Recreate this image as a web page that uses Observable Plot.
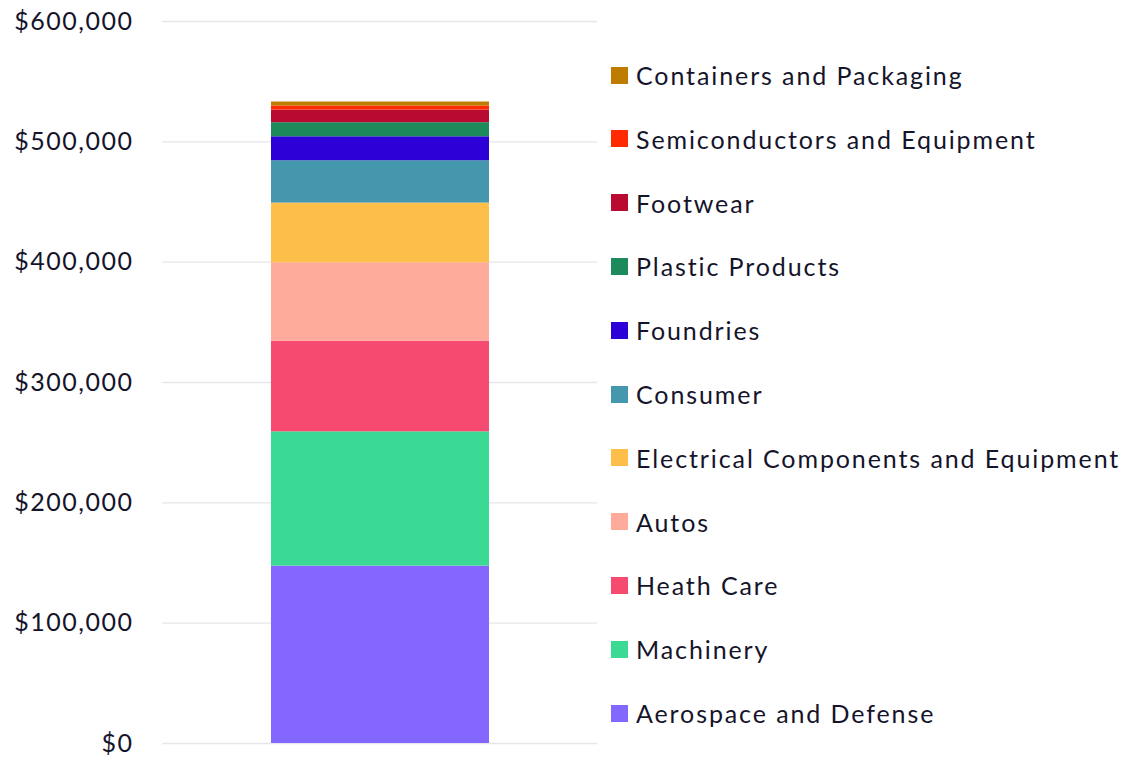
<!DOCTYPE html>
<html>
<head>
<meta charset="utf-8">
<script src="https://cdn.jsdelivr.net/npm/d3@7"></script>
<script src="https://cdn.jsdelivr.net/npm/@observablehq/plot@0.6"></script>
<style>
  html, body { margin: 0; padding: 0; background: #fff; }
  #wrap { position: relative; width: 1127px; height: 758px; font-family: Lato, "Noto Sans", sans-serif; color: #14142B; }
  #chart { position: absolute; left: 0; top: 0; }
  #legend { position: absolute; left: 611px; top: 0; }
  .item { position: absolute; left: 0; display: flex; align-items: center; white-space: nowrap; font-size: 25px; letter-spacing: 1.9px; }
  .sw { width: 17px; height: 17px; margin-right: 8px; flex: none; }
</style>
</head>
<body>
<div id="wrap"><div id="chart"></div><div id="legend"></div></div>
<script>
const categories = ["Aerospace and Defense", "Machinery", "Heath Care", "Autos", "Electrical Components and Equipment", "Consumer", "Foundries", "Plastic Products", "Footwear", "Semiconductors and Equipment", "Containers and Packaging"];
const values = [147400, 111600, 75400, 65100, 49600, 35200, 19900, 11700, 10500, 3400, 3300];
const colors = ["#8367FF", "#3AD994", "#F74A70", "#FFAB9C", "#FDBE4A", "#4597AD", "#2C00D6", "#1C8A5A", "#B90B32", "#FF2A00", "#BE7C00"];
const yTicks = [0, 100000, 200000, 300000, 400000, 500000, 600000];
const group = "Total";

const data = categories.map((c, i) => ({group, category: c, value: values[i]}));
const fmt = d => "$" + d3.format(",")(d);

const chart = Plot.plot({
  width: 597,
  height: 758,
  marginLeft: 162,
  marginRight: 0,
  marginTop: 21,
  marginBottom: 15,
  style: {fontFamily: "Lato, 'Noto Sans', sans-serif", fontSize: "25px", color: "#14142B", background: "transparent"},
  x: {domain: [group], padding: 0.332, axis: null},
  y: {domain: [0, 600000], ticks: yTicks, tickFormat: fmt, tickSize: 0, tickPadding: 29, label: null},
  color: {domain: categories, range: colors},
  marks: [
    Plot.ruleY(yTicks, {stroke: "#E6E6EC", strokeWidth: 1.3}),
    Plot.barY(data, {x: "group", y: "value", fill: "category"})
  ]
});
chart.querySelectorAll("[aria-label='y-axis tick label'] text").forEach(t => t.setAttribute("letter-spacing", "1.5"));
document.getElementById("chart").appendChild(chart);

const legend = document.getElementById("legend");
const rev = categories.slice().reverse();
rev.forEach((c, i) => {
  const idx = categories.indexOf(c);
  const item = document.createElement("div");
  item.className = "item";
  item.style.top = (75 + i * 63.8 - 16) + "px";
  item.style.height = "32px";
  const sw = document.createElement("div");
  sw.className = "sw";
  sw.style.background = colors[idx];
  const tx = document.createElement("span");
  tx.textContent = c;
  item.appendChild(sw);
  item.appendChild(tx);
  legend.appendChild(item);
});
</script>
</body>
</html>
